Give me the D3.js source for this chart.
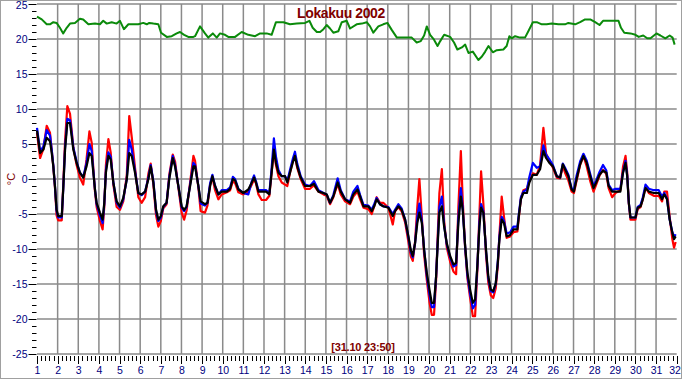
<!DOCTYPE html>
<html><head><meta charset="utf-8">
<script src="https://cdn.jsdelivr.net/npm/d3@7"></script>
<style>html,body{margin:0;padding:0;background:#fff;}svg{display:block;}</style>
</head><body>
<svg id="c" width="682" height="380"></svg>
<script>
const title = "Lokakuu 2002";
const stamp = "[31.10 23:50]";
const unitLabel = "°C";
const xTicks = d3.range(1, 33);
const yTicks = [-25, -20, -15, -10, -5, 0, 5, 10, 15, 20, 25];

// time in days (shared by the three temperature series)
const tDays = [1.0,1.15,1.31,1.47,1.63,1.71,1.79,1.87,1.95,2.03,2.2,2.27,2.36,2.47,2.6,2.68,2.76,2.92,3.08,3.24,3.4,3.54,3.65,3.73,3.81,3.89,4.05,4.18,4.26,4.34,4.46,4.57,4.7,4.86,5.02,5.18,5.35,5.47,5.59,5.75,5.91,6.07,6.24,6.4,6.51,6.64,6.77,6.88,7.0,7.12,7.28,7.41,7.58,7.69,7.85,8.01,8.13,8.25,8.42,8.58,8.66,8.82,8.93,9.14,9.26,9.39,9.5,9.63,9.79,9.95,10.2,10.36,10.49,10.6,10.76,11.0,11.24,11.41,11.52,11.61,11.73,11.89,12.1,12.26,12.37,12.48,12.58,12.7,12.86,13.02,13.13,13.26,13.39,13.5,13.61,13.78,13.99,14.23,14.42,14.64,14.88,15.04,15.2,15.36,15.57,15.72,15.93,16.17,16.33,16.53,16.66,16.82,17.06,17.22,17.34,17.46,17.62,17.78,18.03,18.24,18.35,18.51,18.67,18.84,19.0,19.11,19.21,19.32,19.43,19.53,19.65,19.76,19.89,20.02,20.13,20.24,20.34,20.42,20.5,20.62,20.73,20.86,21.02,21.18,21.31,21.42,21.54,21.63,21.75,21.86,21.99,22.12,22.23,22.34,22.44,22.52,22.63,22.76,22.87,22.99,23.11,23.23,23.33,23.41,23.52,23.63,23.76,23.93,24.09,24.28,24.35,24.45,24.57,24.74,24.86,25.03,25.22,25.38,25.54,25.67,25.83,26.0,26.19,26.35,26.48,26.59,26.75,26.91,27.02,27.15,27.32,27.48,27.64,27.81,27.97,28.1,28.26,28.43,28.59,28.7,28.87,29.03,29.27,29.4,29.52,29.6,29.68,29.76,30.0,30.11,30.25,30.36,30.49,30.65,30.89,31.13,31.29,31.4,31.53,31.66,31.79,31.87,31.95];

const blackTemp = [6.9,3.7,4.2,5.9,5.4,3.8,1.8,-1.0,-4.4,-5.3,-5.3,-1.5,4.2,8.0,8.0,6.1,4.2,2.3,0.9,0.2,1.8,3.7,3.3,0.9,-1.5,-3.4,-4.8,-5.8,-3.4,0.9,3.3,2.8,-0.5,-3.2,-3.9,-2.7,-0.1,3.7,3.3,0.9,-2.0,-2.2,-1.8,0.0,1.8,-0.5,-4.4,-5.8,-5.3,-3.9,-3.4,0.0,3.0,1.8,-1.0,-3.9,-4.4,-3.9,-1.0,1.8,1.8,-1.0,-3.2,-3.6,-3.4,-1.0,0.4,-1.0,-2.2,-1.8,-1.8,-1.4,0.0,-0.2,-1.5,-2.0,-1.5,-0.5,0.2,-0.5,-1.8,-1.8,-1.8,-2.2,0.9,4.2,2.3,0.9,0.4,0.4,-0.5,0.9,2.3,3.3,1.8,0.2,-1.0,-1.0,-0.7,-1.8,-2.0,-2.2,-3.4,-2.5,-0.5,-1.8,-2.9,-3.4,-2.2,-1.5,-2.5,-3.9,-3.9,-4.6,-3.9,-2.9,-3.6,-3.9,-4.1,-5.3,-4.6,-3.9,-4.4,-5.8,-8.2,-10.1,-11.0,-9.2,-6.3,-4.8,-6.3,-10.1,-13.4,-15.8,-17.7,-17.7,-13.9,-9.2,-4.8,-3.9,-6.8,-9.2,-11.0,-12.2,-12.0,-6.3,-2.5,-4.4,-9.6,-13.4,-15.8,-17.7,-17.2,-12.4,-6.8,-4.1,-4.8,-10.1,-13.9,-15.8,-16.0,-14.9,-12.0,-8.6,-5.8,-6.3,-8.2,-8.0,-7.2,-7.2,-5.3,-2.9,-2.0,-2.0,-0.5,0.6,0.6,1.4,4.0,3.0,2.3,1.8,0.4,0.2,2.1,1.4,0.4,-1.5,-1.8,0.0,2.1,3.3,2.3,0.4,-1.3,-0.5,0.6,1.2,0.9,-1.0,-1.8,-1.8,-1.8,0.9,2.3,0.4,-3.4,-5.5,-5.5,-4.1,-3.9,-2.9,-1.3,-1.8,-2.0,-2.0,-2.9,-2.2,-2.9,-5.8,-7.7,-8.6,-8.2];

const blueTemp = [7.3,4.0,4.6,7.0,6.2,4.3,2.0,-1.0,-4.6,-5.5,-5.5,-1.5,4.5,8.6,8.4,6.6,4.5,2.5,0.9,0.3,2.3,5.0,4.0,1.2,-1.5,-3.6,-5.2,-6.3,-3.6,1.3,3.8,3.2,-0.5,-3.4,-4.1,-2.9,0.0,5.6,4.2,1.2,-2.0,-2.3,-1.8,0.2,2.0,-0.3,-4.6,-6.0,-5.5,-4.0,-3.4,0.3,3.3,2.0,-1.0,-4.1,-4.6,-4.0,-0.8,2.3,2.0,-1.0,-3.5,-3.8,-3.4,-0.6,0.6,-1.0,-2.2,-1.6,-1.6,-1.2,0.3,0.0,-1.4,-2.0,-2.2,-0.3,0.5,-0.3,-1.6,-1.6,-1.6,-2.0,1.5,5.8,3.2,1.3,0.4,0.4,-0.3,1.3,2.8,3.9,2.2,0.4,-0.8,-1.0,-0.3,-1.6,-2.0,-2.2,-3.4,-2.3,0.1,-1.6,-2.9,-3.2,-1.8,-1.0,-2.3,-3.7,-3.8,-4.4,-3.6,-2.7,-3.6,-3.9,-4.0,-5.0,-4.4,-3.6,-4.2,-5.8,-8.4,-10.4,-11.2,-9.2,-5.5,-3.5,-6.0,-10.1,-13.8,-16.5,-18.3,-18.3,-13.9,-8.8,-4.0,-2.5,-6.6,-9.4,-11.2,-12.5,-12.3,-5.5,-1.3,-4.2,-9.8,-13.8,-16.4,-18.5,-18.0,-12.4,-6.2,-3.6,-4.6,-10.3,-14.2,-16.0,-16.2,-15.0,-11.8,-8.2,-5.4,-6.0,-7.8,-7.6,-6.8,-6.8,-5.0,-2.6,-1.8,-1.5,0.3,2.3,1.6,1.8,4.8,3.5,2.8,2.0,0.4,0.2,2.2,1.6,0.6,-1.4,-1.5,0.5,2.5,3.6,2.6,0.7,-1.0,-0.2,1.0,2.0,1.2,-0.8,-1.6,-1.4,-1.4,1.0,2.6,0.6,-3.4,-5.5,-5.5,-4.0,-3.7,-2.6,-0.8,-1.4,-1.6,-1.6,-2.5,-2.0,-2.8,-5.8,-7.6,-8.3,-7.9];

const redTemp = [6.6,3.0,4.3,7.6,6.6,4.2,1.8,-1.2,-5.2,-5.9,-5.9,-1.0,5.5,10.4,9.3,7.0,4.5,2.0,0.2,-0.8,2.8,6.8,5.2,1.5,-1.8,-4.0,-6.0,-7.2,-4.0,2.0,5.7,3.8,-0.8,-4.0,-4.4,-3.2,0.5,9.0,6.0,1.6,-2.6,-3.4,-2.6,0.8,2.2,-0.8,-5.2,-6.8,-6.0,-4.2,-3.6,0.6,3.5,2.5,-1.2,-4.8,-5.8,-4.5,-0.5,3.3,2.6,-1.2,-4.6,-4.8,-3.8,-0.8,0.3,-1.6,-2.9,-2.2,-1.9,-1.6,-0.3,-0.6,-1.9,-2.2,-1.8,-0.8,0.0,-0.6,-2.2,-3.0,-3.0,-2.4,0.9,4.3,2.0,0.4,-0.5,-0.8,-1.0,0.9,2.5,3.3,1.6,0.0,-1.4,-1.4,-0.9,-1.8,-2.2,-2.4,-3.6,-2.6,-0.7,-2.2,-3.2,-3.6,-2.5,-1.8,-2.9,-4.1,-4.3,-5.0,-3.9,-2.6,-3.4,-3.4,-4.1,-6.5,-4.6,-4.0,-4.6,-6.2,-9.0,-11.0,-11.7,-9.0,-4.0,0.0,-5.5,-10.8,-14.4,-17.6,-19.4,-19.4,-14.5,-8.0,-2.0,1.4,-6.0,-9.8,-11.8,-13.2,-13.6,-4.0,4.0,-3.0,-10.0,-14.2,-17.0,-19.6,-19.6,-13.0,-5.0,1.1,-3.5,-10.8,-14.8,-16.6,-17.0,-15.6,-12.4,-8.0,-2.5,-5.4,-8.4,-8.2,-7.6,-7.5,-5.5,-2.8,-1.6,-1.4,-0.3,0.8,0.6,2.0,7.3,3.6,2.6,1.6,0.2,0.1,1.8,0.9,-0.2,-1.8,-2.0,-0.2,2.0,3.3,1.8,-0.3,-1.8,-0.8,0.5,1.3,0.7,-1.3,-2.6,-2.0,-1.6,1.8,3.3,1.0,-3.5,-5.8,-5.8,-4.3,-4.0,-2.8,-1.2,-2.0,-2.4,-2.4,-3.2,-1.8,-1.8,-5.4,-8.6,-9.8,-9.0];

// upper (green) series
const greenDays = [1.0,1.23,1.47,1.63,1.79,1.95,2.11,2.27,2.44,2.6,2.84,3.08,3.24,3.49,3.81,4.05,4.21,4.38,4.62,4.86,5.02,5.21,5.43,5.67,5.91,6.15,6.32,6.44,6.64,6.88,7.01,7.29,7.53,7.77,7.93,8.13,8.33,8.58,8.66,8.9,9.14,9.3,9.52,9.71,9.87,10.11,10.27,10.6,10.92,11.24,11.57,11.81,12.13,12.37,12.58,12.94,13.26,13.59,13.99,14.2,14.36,14.56,14.72,14.88,15.04,15.2,15.36,15.6,15.77,16.01,16.17,16.49,16.74,16.98,17.14,17.3,17.54,17.78,17.98,18.19,18.44,18.76,19.16,19.4,19.6,19.76,19.89,20.05,20.24,20.41,20.54,20.73,21.02,21.21,21.37,21.59,21.75,21.91,22.12,22.39,22.56,22.72,22.88,23.09,23.28,23.6,23.76,23.89,24.0,24.17,24.41,24.65,24.81,25.03,25.22,25.46,25.7,25.94,26.27,26.59,26.75,27.08,27.32,27.56,27.81,28.05,28.26,28.43,28.78,29.18,29.3,29.46,29.76,30.0,30.16,30.38,30.57,30.73,31.02,31.21,31.45,31.66,31.8,31.9];
const greenVals = [23.2,22.8,22.1,22.1,22.4,22.3,21.6,20.8,21.6,22.2,22.3,22.9,22.8,22.1,22.2,22.1,22.6,22.2,22.4,22.2,22.6,21.4,22.1,22.1,22.1,22.3,22.1,22.3,22.2,22.1,20.9,20.3,20.4,20.8,21.0,20.6,20.3,20.3,20.4,21.8,20.8,20.2,20.8,20.2,20.8,20.6,20.3,20.3,21.0,20.6,20.4,20.8,20.8,20.6,22.4,22.4,22.1,22.2,22.3,22.6,21.6,21.0,21.0,21.4,22.0,21.5,20.9,21.1,22.4,22.6,21.5,22.1,22.2,22.4,21.8,20.9,21.8,22.1,22.3,21.3,20.2,20.2,20.2,19.5,19.7,20.5,21.8,20.6,19.9,19.0,19.7,20.6,20.3,19.5,18.5,18.8,19.2,18.0,18.2,17.0,17.5,18.2,19.0,18.1,18.4,18.5,19.0,20.4,20.1,20.4,20.2,20.2,21.1,22.4,22.4,22.1,22.1,22.2,22.1,22.1,22.3,22.1,22.4,22.8,22.8,22.4,22.0,22.6,22.6,22.6,21.6,20.9,20.8,20.6,20.3,20.5,20.1,20.1,20.8,20.5,20.1,20.5,20.2,19.2];

const svg = d3.select("#c");
const x = d3.scaleLinear().domain([1, 32]).range([37, 676.7]);
const y = d3.scaleLinear().domain([-25, 25]).range([354, 4]);

svg.append("rect").attr("x",0).attr("y",0).attr("width",682).attr("height",380).attr("fill","#fff");

// grid
const grid = svg.append("g").attr("stroke","#8a8a8a").attr("stroke-width",1.5);
grid.selectAll(".v").data(d3.range(2, 32)).join("line")
  .attr("x1", d => x(d)).attr("x2", d => x(d)).attr("y1", y(25)).attr("y2", y(-25));
grid.selectAll(".h").data(yTicks).join("line")
  .attr("x1", x(1)).attr("x2", x(32)).attr("y1", d => y(d)).attr("y2", d => y(d));

// y axis ticks
const yMinor = d3.range(-25, 26, 1);
svg.append("g").selectAll("line").data(yMinor).join("line")
  .attr("x1", d => d % 5 === 0 ? 28.5 : 32).attr("x2", 36.5)
  .attr("y1", d => Math.round(y(d)) + 0.5).attr("y2", d => Math.round(y(d)) + 0.5)
  .attr("stroke","#000").attr("stroke-width",1);
svg.append("g").selectAll("text").data(yTicks).join("text")
  .attr("x", 27.5).attr("y", d => Math.max(y(d) + 3.8, 9))
  .attr("text-anchor","end").attr("fill","#000080")
  .attr("font-family","Liberation Sans, Arial, sans-serif").attr("font-size","10.5px")
  .text(d => d);

// x axis ticks
const xMinor = d3.range(0, 31 * 5 + 1).map(i => 1 + i / 5);
svg.append("g").selectAll("line").data(xMinor).join("line")
  .attr("x1", d => Math.round(x(d)) + 0.5).attr("x2", d => Math.round(x(d)) + 0.5)
  .attr("y1", 356).attr("y2", (d, i) => i % 5 === 0 ? 364 : 361)
  .attr("stroke","#000").attr("stroke-width",1);
svg.append("g").selectAll("text").data(xTicks).join("text")
  .attr("x", d => Math.min(x(d) + 0.5, 675)).attr("y", 374)
  .attr("text-anchor","middle").attr("fill","#000080")
  .attr("font-family","Liberation Sans, Arial, sans-serif").attr("font-size","10.5px")
  .text(d => d);

// series
const tempLine = vals => d3.line().x((d, i) => x(tDays[i])).y(d => y(d))(vals);
const gLine = d3.line().x((d, i) => x(greenDays[i])).y(d => y(d));
svg.append("path").attr("d", gLine(greenVals)).attr("fill","none").attr("stroke","#0a8a0a").attr("stroke-width",2).attr("stroke-linejoin","round");
svg.append("path").attr("d", tempLine(redTemp)).attr("fill","none").attr("stroke","#ff0000").attr("stroke-width",2.2).attr("stroke-linejoin","round");
svg.append("path").attr("d", tempLine(blueTemp)).attr("fill","none").attr("stroke","#0000ff").attr("stroke-width",2.2).attr("stroke-linejoin","round");
svg.append("path").attr("d", tempLine(blackTemp)).attr("fill","none").attr("stroke","#000000").attr("stroke-width",2.2).attr("stroke-linejoin","round");

// texts
svg.append("text").attr("x", 341).attr("y", 17.5).attr("text-anchor","middle")
  .attr("fill","#800000").attr("font-weight","bold").attr("letter-spacing","-0.4px")
  .attr("font-family","Liberation Sans, Arial, sans-serif").attr("font-size","14px").text(title);
svg.append("text").attr("x", 363).attr("y", 351).attr("text-anchor","middle")
  .attr("fill","#800000").attr("font-weight","bold").attr("letter-spacing","-0.2px")
  .attr("font-family","Liberation Sans, Arial, sans-serif").attr("font-size","11px").text(stamp);
svg.append("text").attr("transform","translate(15,179) rotate(-90)").attr("text-anchor","middle")
  .attr("fill","#800000").attr("font-family","Liberation Sans, Arial, sans-serif").attr("font-size","11px").text(unitLabel);

// outer frame
svg.append("rect").attr("x",0.5).attr("y",0.5).attr("width",681).attr("height",378)
  .attr("fill","none").attr("stroke","#a0a0a0").attr("stroke-width",1);
</script>
</body></html>
